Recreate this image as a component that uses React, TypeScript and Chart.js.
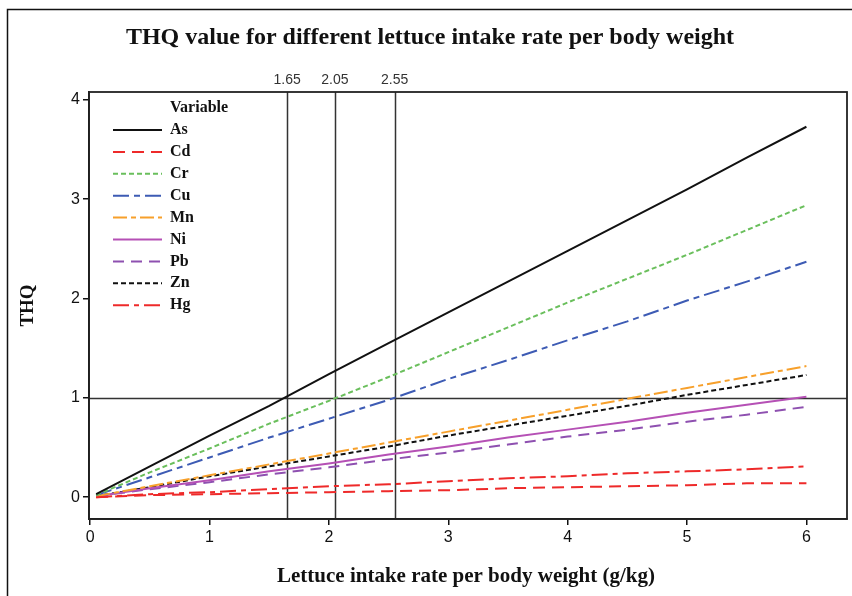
import React, { useEffect, useRef } from "react";
import { Chart, registerables } from "chart.js";

Chart.register(...registerables);

const xs = [0.05, 0.5, 1, 1.5, 2, 2.5, 3, 3.5, 4, 4.5, 5, 5.5, 6];
const seriesNames = ["As", "Cd", "Cr", "Cu", "Mn", "Ni", "Pb", "Zn", "Hg"];
const asVals = [0.03, 0.31, 0.62, 0.92, 1.24, 1.55, 1.86, 2.17, 2.48, 2.79, 3.1, 3.42, 3.73];
const cdVals = [0.0, 0.02, 0.03, 0.04, 0.05, 0.06, 0.07, 0.09, 0.1, 0.11, 0.12, 0.14, 0.14];
const crVals = [0.02, 0.25, 0.49, 0.74, 0.97, 1.21, 1.46, 1.71, 1.96, 2.2, 2.44, 2.69, 2.94];
const cuVals = [0.02, 0.2, 0.4, 0.6, 0.79, 0.98, 1.19, 1.38, 1.58, 1.77, 1.98, 2.17, 2.37];
const mnVals = [0.01, 0.11, 0.22, 0.33, 0.44, 0.55, 0.66, 0.77, 0.88, 0.99, 1.1, 1.21, 1.32];
const niVals = [0.01, 0.09, 0.17, 0.26, 0.34, 0.43, 0.51, 0.6, 0.68, 0.76, 0.85, 0.93, 1.01];
const pbVals = [0.01, 0.08, 0.15, 0.23, 0.3, 0.38, 0.45, 0.53, 0.61, 0.68, 0.76, 0.83, 0.91];
const znVals = [0.01, 0.1, 0.21, 0.31, 0.41, 0.51, 0.62, 0.72, 0.82, 0.92, 1.03, 1.13, 1.23];
const hgVals = [0.0, 0.03, 0.05, 0.08, 0.11, 0.13, 0.16, 0.19, 0.21, 0.24, 0.26, 0.28, 0.31];
const seriesValues = [asVals, cdVals, crVals, cuVals, mnVals, niVals, pbVals, znVals, hgVals];
const seriesColors = ["#111111", "#ee2a2a", "#6abf5c", "#3d5bb4", "#f7a02b", "#b550b5", "#8e50b0", "#111111", "#ee2a2a"];
const seriesDashes = [[], [12, 7], [5, 3], [16, 5, 6, 5], [14, 4, 5, 4], [], [11, 7], [5, 3], [16, 5, 5, 5]];
const refXs = [1.65, 2.05, 2.55];
const refY = 1;
const xTicks = [0, 1, 2, 3, 4, 5, 6];
const yTicks = [0, 1, 2, 3, 4];
const titleText = "THQ value for different lettuce intake rate per body weight";
const xTitle = "Lettuce intake rate per body weight (g/kg)";
const yTitle = "THQ";
const legendTitle = "Variable";

const SERIF = "'Liberation Serif', 'DejaVu Serif', serif";
const SANS = "'Liberation Sans', 'DejaVu Sans', sans-serif";

export default function App() {
  const ref = useRef<HTMLCanvasElement>(null);
  useEffect(() => {
    document.body.style.margin = "0";
    const canvas = ref.current!;
    const datasets = seriesNames.map((n, i) => ({
      label: n,
      data: xs.map((x, j) => ({ x, y: seriesValues[i][j] })),
      borderColor: seriesColors[i],
      backgroundColor: seriesColors[i],
      borderDash: seriesDashes[i],
      borderWidth: 2,
      pointRadius: 0,
      fill: false,
      tension: 0,
    }));
    const overlay = {
      id: "overlay",
      beforeDatasetsDraw(chart: any) {
        const { ctx, chartArea: a, scales } = chart;
        ctx.save();
        ctx.strokeStyle = "#333";
        ctx.lineWidth = 1.5;
        ctx.beginPath();
        for (const v of refXs) {
          const px = Math.round(scales.x.getPixelForValue(v)) + 0.5;
          ctx.moveTo(px, a.top);
          ctx.lineTo(px, a.bottom);
        }
        const py = Math.round(scales.y.getPixelForValue(refY)) + 0.5;
        ctx.moveTo(a.left, py);
        ctx.lineTo(a.right, py);
        ctx.stroke();
        ctx.restore();
      },
      afterDraw(chart: any) {
        const { ctx, chartArea: a, scales } = chart;
        ctx.save();
        // outer frame
        ctx.strokeStyle = "#111";
        ctx.lineWidth = 1.5;
        ctx.beginPath();
        ctx.moveTo(7.5, 596);
        ctx.lineTo(7.5, 9.5);
        ctx.lineTo(852, 9.5);
        ctx.stroke();
        // plot box
        ctx.strokeStyle = "#222";
        ctx.lineWidth = 1.8;
        ctx.strokeRect(a.left, a.top, a.right - a.left, a.bottom - a.top);
        // title
        ctx.fillStyle = "#111";
        ctx.textAlign = "center";
        ctx.textBaseline = "middle";
        ctx.font = `bold 24px ${SERIF}`;
        ctx.fillText(titleText, 430, 38);
        ctx.font = `bold 21px ${SERIF}`;
        ctx.fillText(xTitle, 466, 577);
        ctx.save();
        ctx.translate(28, (a.top + a.bottom) / 2);
        ctx.rotate(-Math.PI / 2);
        ctx.font = `bold 19px ${SERIF}`;
        ctx.fillText(yTitle, 0, 0);
        ctx.restore();
        // ref labels
        ctx.font = `14px ${SANS}`;
        ctx.fillStyle = "#333";
        for (const v of refXs) {
          ctx.fillText(v.toFixed(2), scales.x.getPixelForValue(v), 80);
        }
        // legend
        ctx.fillStyle = "#111";
        ctx.textAlign = "left";
        ctx.font = `bold 16px ${SERIF}`;
        ctx.fillText(legendTitle, 170, 108);
        seriesNames.forEach((n, i) => {
          const y = 130 + i * 21.9;
          ctx.strokeStyle = seriesColors[i];
          ctx.lineWidth = 2;
          ctx.setLineDash(seriesDashes[i]);
          ctx.beginPath();
          ctx.moveTo(113, y);
          ctx.lineTo(162, y);
          ctx.stroke();
          ctx.setLineDash([]);
          ctx.fillText(n, 170, y);
        });
        ctx.restore();
      },
    };
    const chart = new Chart(canvas, {
      type: "line",
      data: { datasets },
      options: {
        animation: false,
        responsive: false,
        maintainAspectRatio: false,
        layout: { padding: { top: 92, right: 5, left: 0, bottom: 0 } },
        plugins: { legend: { display: false }, title: { display: false }, tooltip: { enabled: false } },
        scales: {
          x: {
            type: "linear",
            min: -0.01,
            max: 6.34,
            afterBuildTicks: (s: any) => { s.ticks = xTicks.map((v) => ({ value: v })); },
            afterFit: (s: any) => { s.height = 596 - 519; },
            ticks: { color: "#111", font: { family: SANS, size: 16 }, padding: 3, callback: (v: any) => String(v) },
            grid: { drawOnChartArea: false, drawTicks: true, tickLength: 6, color: "#111", lineWidth: 1.5 },
            border: { display: true, color: "#111", width: 1.8 },
          },
          y: {
            type: "linear",
            min: -0.22,
            max: 4.08,
            afterBuildTicks: (s: any) => { s.ticks = yTicks.map((v) => ({ value: v })); },
            afterFit: (s: any) => { s.width = 89; },
            ticks: { color: "#111", font: { family: SANS, size: 16 }, padding: 3, callback: (v: any) => String(v) },
            grid: { drawOnChartArea: false, drawTicks: true, tickLength: 6, color: "#111", lineWidth: 1.5 },
            border: { display: true, color: "#111", width: 1.8 },
          },
        },
      },
      plugins: [overlay],
    } as any);
    return () => chart.destroy();
  }, []);
  return (
    <div style={{ position: "absolute", left: 0, top: 0, width: 852, height: 596, background: "#fff" }}>
      <canvas ref={ref} width={852} height={596} />
    </div>
  );
}
